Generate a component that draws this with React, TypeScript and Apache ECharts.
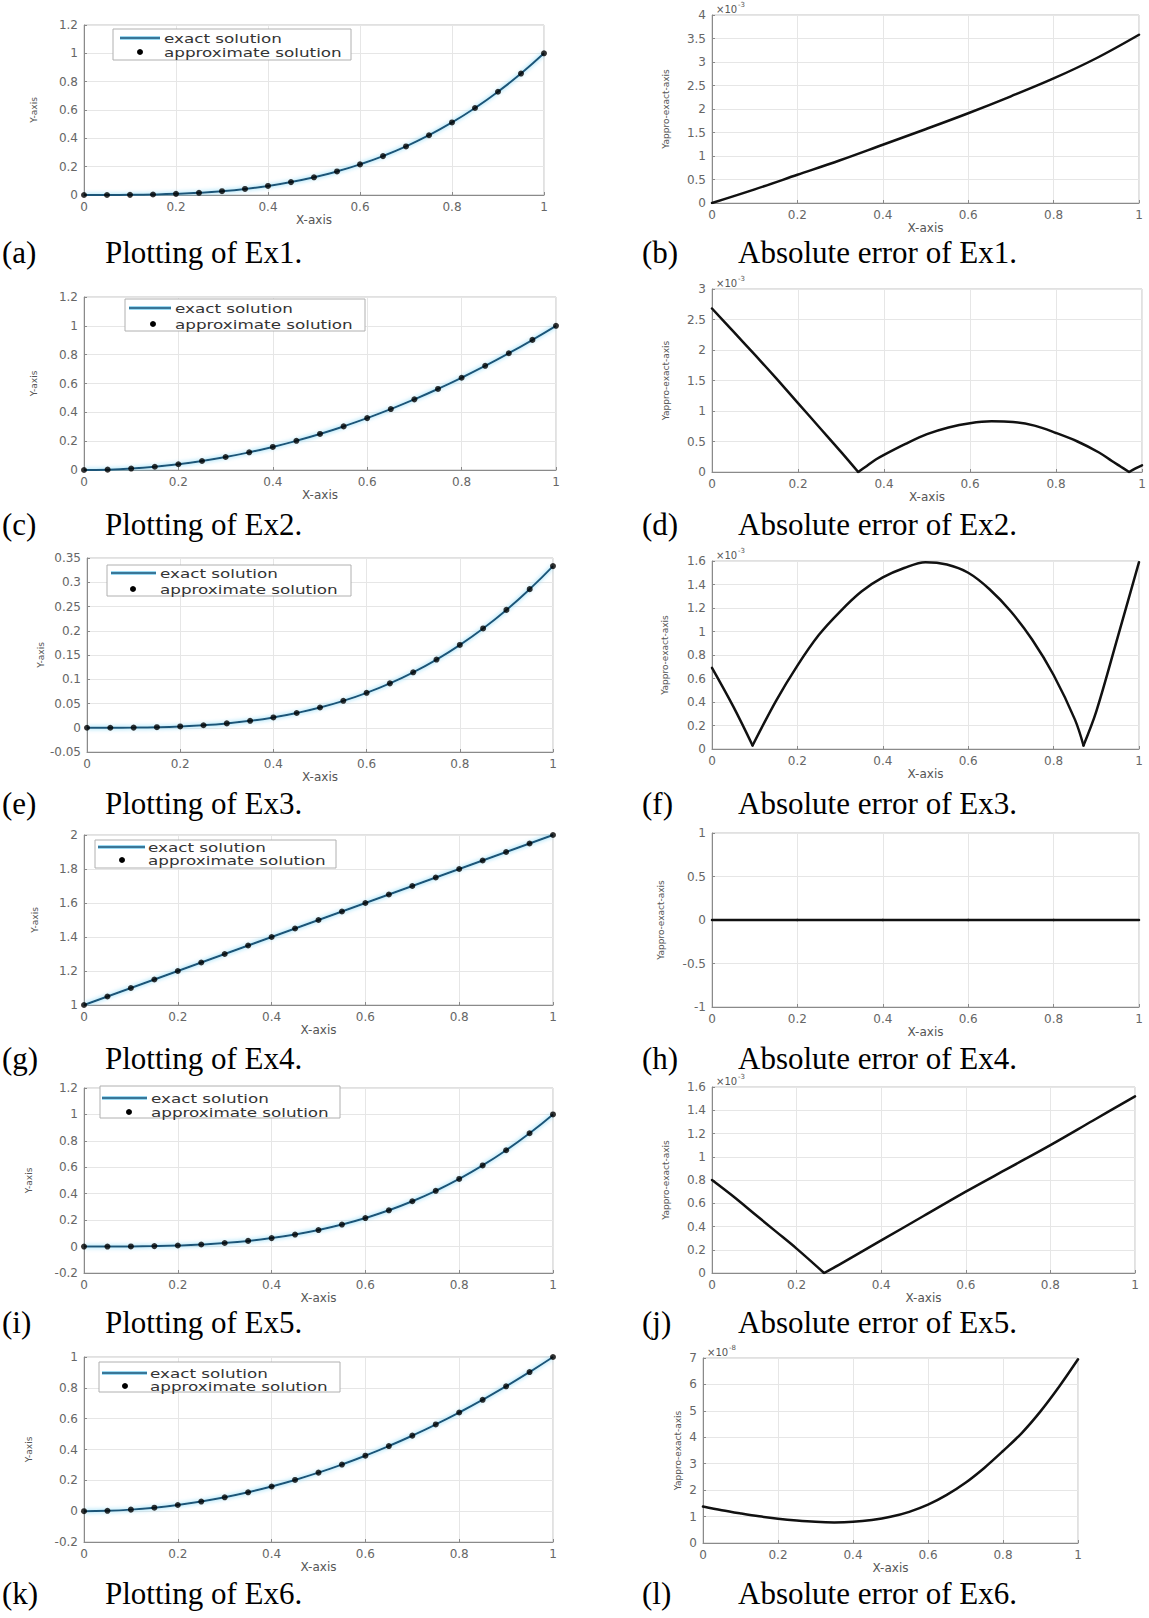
import React, { useEffect, useRef } from "react";
import * as echarts from "echarts";

// ---------------- data ----------------
const xNodes = [0, 0.05, 0.1, 0.15, 0.2, 0.25, 0.3, 0.35, 0.4, 0.45, 0.5, 0.55, 0.6, 0.65, 0.7, 0.75, 0.8, 0.85, 0.9, 0.95, 1];
const xTickLabels = ["0", "0.2", "0.4", "0.6", "0.8", "1"];

const ex1Solution = [0, 0.0001, 0.001, 0.0034, 0.008, 0.0156, 0.027, 0.0429, 0.064, 0.0911, 0.125, 0.1664, 0.216, 0.2746, 0.343, 0.4219, 0.512, 0.6141, 0.729, 0.8574, 1];
const ex2Solution = [0, 0.0025, 0.01, 0.0225, 0.04, 0.0625, 0.09, 0.1225, 0.16, 0.2025, 0.25, 0.3025, 0.36, 0.4225, 0.49, 0.5625, 0.64, 0.7225, 0.81, 0.9025, 1];
const ex3Solution = [0, 0.00004, 0.0003, 0.0011, 0.0027, 0.0052, 0.009, 0.0143, 0.0213, 0.0304, 0.0417, 0.0555, 0.072, 0.0915, 0.1143, 0.1406, 0.1707, 0.2047, 0.243, 0.2858, 0.3333];
const ex4Solution = [1, 1.05, 1.1, 1.15, 1.2, 1.25, 1.3, 1.35, 1.4, 1.45, 1.5, 1.55, 1.6, 1.65, 1.7, 1.75, 1.8, 1.85, 1.9, 1.95, 2];
const ex5Solution = [0, 0.0001, 0.001, 0.0034, 0.008, 0.0156, 0.027, 0.0429, 0.064, 0.0911, 0.125, 0.1664, 0.216, 0.2746, 0.343, 0.4219, 0.512, 0.6141, 0.729, 0.8574, 1];
const ex6Solution = [0, 0.0025, 0.01, 0.0225, 0.04, 0.0625, 0.09, 0.1225, 0.16, 0.2025, 0.25, 0.3025, 0.36, 0.4225, 0.49, 0.5625, 0.64, 0.7225, 0.81, 0.9025, 1];

// absolute errors, in units of the axis multiplier (x10^-3, x10^-8)
const ex1ErrX = [0, 0.1, 0.2, 0.3, 0.4, 0.5, 0.6, 0.7, 0.8, 0.9, 1];
const ex1ErrY = [0, 0.29, 0.6, 0.91, 1.24, 1.57, 1.91, 2.27, 2.65, 3.08, 3.58];

const ex2ErrX = [0, 0.05, 0.1, 0.15, 0.2, 0.25, 0.3, 0.34, 0.36, 0.38, 0.4, 0.45, 0.5, 0.55, 0.6, 0.65, 0.7, 0.75, 0.8, 0.85, 0.9, 0.93, 0.95, 0.97, 0.985, 1];
const ex2ErrY = [2.68, 2.3, 1.92, 1.53, 1.13, 0.73, 0.33, 0.0, 0.1, 0.2, 0.28, 0.46, 0.62, 0.73, 0.8, 0.83, 0.82, 0.76, 0.64, 0.5, 0.32, 0.18, 0.09, 0.0, 0.06, 0.11];

const ex3ErrX = [0, 0.05, 0.095, 0.15, 0.2, 0.25, 0.3, 0.35, 0.4, 0.45, 0.5, 0.55, 0.6, 0.65, 0.7, 0.75, 0.8, 0.85, 0.87, 0.9, 0.95, 1];
const ex3ErrY = [0.69, 0.36, 0.03, 0.41, 0.71, 0.97, 1.17, 1.34, 1.46, 1.54, 1.59, 1.57, 1.5, 1.36, 1.17, 0.93, 0.63, 0.25, 0.03, 0.32, 0.95, 1.59];

const ex4ErrX = [0, 0.2, 0.4, 0.6, 0.8, 1];
const ex4ErrY = [0, 0, 0, 0, 0, 0];

const ex5ErrX = [0, 0.05, 0.1, 0.15, 0.2, 0.265, 0.3, 0.4, 0.5, 0.6, 0.7, 0.8, 0.9, 1];
const ex5ErrY = [0.8, 0.66, 0.51, 0.36, 0.21, 0.0, 0.07, 0.28, 0.49, 0.7, 0.9, 1.1, 1.31, 1.52];

const ex6ErrX = [0, 0.05, 0.1, 0.15, 0.2, 0.25, 0.3, 0.35, 0.4, 0.45, 0.5, 0.55, 0.6, 0.65, 0.7, 0.75, 0.8, 0.85, 0.9, 0.95, 1];
const ex6ErrY = [1.38, 1.24, 1.12, 1.01, 0.92, 0.85, 0.8, 0.78, 0.8, 0.87, 0.99, 1.18, 1.45, 1.82, 2.28, 2.84, 3.48, 4.16, 4.98, 5.92, 6.95];

const legendNames = ["exact solution", "approximate solution"];
const captions = [
  ["(a)", "Plotting of Ex1."], ["(b)", "Absolute error of Ex1."],
  ["(c)", "Plotting of Ex2."], ["(d)", "Absolute error of Ex2."],
  ["(e)", "Plotting of Ex3."], ["(f)", "Absolute error of Ex3."],
  ["(g)", "Plotting of Ex4."], ["(h)", "Absolute error of Ex4."],
  ["(i)", "Plotting of Ex5."], ["(j)", "Absolute error of Ex5."],
  ["(k)", "Plotting of Ex6."], ["(l)", "Absolute error of Ex6."],
];

// ---------------- layout ----------------
const FONT = "DejaVu Sans, Liberation Sans, sans-serif";
const SERIF = "Liberation Serif, DejaVu Serif, serif";

type Panel = {
  kind: "sol" | "err";
  box: number[]; // left, top, width, height
  yMin: number; yMax: number; yStep: number;
  yName: string; yGap: number; xGap: number;
  sol?: number[];
  ex?: number[]; ey?: number[];
  exp?: string;
  legend?: { box: number[]; lx: number[]; tx: number; y1: number; y2: number; dot: number };
};

const panels: Panel[] = [
  { kind: "sol", box: [84, 25, 460, 170], yMin: 0, yMax: 1.2, yStep: 0.2, yName: "Y-axis", yGap: 46, xGap: 16, sol: ex1Solution,
    legend: { box: [113, 29, 238, 31], lx: [120, 160], tx: 164, y1: 38, y2: 52, dot: 140 } },
  { kind: "err", box: [712, 15, 427, 188], yMin: 0, yMax: 4, yStep: 0.5, yName: "Yappro-exact-axis", yGap: 42, xGap: 17, ex: ex1ErrX, ey: ex1ErrY, exp: "-3" },
  { kind: "sol", box: [84, 297, 472, 173], yMin: 0, yMax: 1.2, yStep: 0.2, yName: "Y-axis", yGap: 46, xGap: 16, sol: ex2Solution,
    legend: { box: [125, 299, 240, 32], lx: [129, 171], tx: 175, y1: 308, y2: 324, dot: 153 } },
  { kind: "err", box: [712, 289, 430, 183], yMin: 0, yMax: 3, yStep: 0.5, yName: "Yappro-exact-axis", yGap: 42, xGap: 17, ex: ex2ErrX, ey: ex2ErrY, exp: "-3" },
  { kind: "sol", box: [87, 558, 466, 194], yMin: -0.05, yMax: 0.35, yStep: 0.05, yName: "Y-axis", yGap: 42, xGap: 16, sol: ex3Solution,
    legend: { box: [107, 565, 244, 31], lx: [111, 156], tx: 160, y1: 573, y2: 589, dot: 133 } },
  { kind: "err", box: [712, 561, 427, 188], yMin: 0, yMax: 1.6, yStep: 0.2, yName: "Yappro-exact-axis", yGap: 43, xGap: 16, ex: ex3ErrX, ey: ex3ErrY, exp: "-3" },
  { kind: "sol", box: [84, 835, 469, 170], yMin: 1, yMax: 2, yStep: 0.2, yName: "Y-axis", yGap: 45, xGap: 16, sol: ex4Solution,
    legend: { box: [95, 840, 241, 28], lx: [98, 145], tx: 148, y1: 847, y2: 860, dot: 122 } },
  { kind: "err", box: [712, 833, 427, 174], yMin: -1, yMax: 1, yStep: 0.5, yName: "Yappro-exact-axis", yGap: 47, xGap: 16, ex: ex4ErrX, ey: ex4ErrY },
  { kind: "sol", box: [84, 1088, 469, 185], yMin: -0.2, yMax: 1.2, yStep: 0.2, yName: "Y-axis", yGap: 51, xGap: 15, sol: ex5Solution,
    legend: { box: [100, 1086, 240, 32], lx: [102, 147], tx: 151, y1: 1098, y2: 1112, dot: 129 } },
  { kind: "err", box: [712, 1087, 423, 186], yMin: 0, yMax: 1.6, yStep: 0.2, yName: "Yappro-exact-axis", yGap: 42, xGap: 15, ex: ex5ErrX, ey: ex5ErrY, exp: "-3" },
  { kind: "sol", box: [84, 1357, 469, 185], yMin: -0.2, yMax: 1, yStep: 0.2, yName: "Y-axis", yGap: 51, xGap: 14, sol: ex6Solution,
    legend: { box: [99, 1362, 241, 30], lx: [102, 147], tx: 150, y1: 1373, y2: 1386, dot: 125 } },
  { kind: "err", box: [703, 1358, 375, 185], yMin: 0, yMax: 7, yStep: 1, yName: "Yappro-exact-axis", yGap: 21, xGap: 14, ex: ex6ErrX, ey: ex6ErrY, exp: "-8" },
];

const captionRows = [252, 524, 803, 1058, 1322, 1593];

const EXACT_COLOR = "#1a5478";
const EXACT_GLOW = "#6fd0f5";

// split an error curve at its zero-touching kinks so every arc is smoothed separately
function splitAtKinks(xs: number[], ys: number[]) {
  const segs: number[][][] = [];
  let cur: number[][] = [];
  xs.forEach((x, k) => {
    cur.push([x, ys[k]]);
    const kink = k > 0 && k < xs.length - 1 && ys[k] < 0.05 && ys[k] <= ys[k - 1] && ys[k] <= ys[k + 1];
    if (kink) { segs.push(cur); cur = [[x, ys[k]]]; }
  });
  segs.push(cur);
  return segs;
}

function buildOption() {
  const grid: any[] = [];
  const xAxis: any[] = [];
  const yAxis: any[] = [];
  const series: any[] = [];
  const graphic: any[] = [];

  panels.forEach((p, i) => {
    const [left, top, width, height] = p.box;
    grid.push({ left, top, width, height, show: true, borderColor: "#c2c2c2", borderWidth: 1, backgroundColor: "#fff", containLabel: false });
    xAxis.push({
      type: "value", gridIndex: i, min: 0, max: 1, interval: 0.2,
      axisLine: { show: true, onZero: false, lineStyle: { color: "#8a8a8a", width: 1 } },
      axisTick: { show: true, inside: true, length: 3, lineStyle: { color: "#8a8a8a" } },
      axisLabel: { fontSize: 12, color: "#666", margin: 6, fontFamily: FONT, formatter: (v: number) => xTickLabels[Math.round(v / 0.2)] ?? String(v) },
      splitLine: { show: true, lineStyle: { color: "#e6e6e6", width: 1 } },
      name: "X-axis", nameLocation: "middle", nameGap: p.xGap,
      nameTextStyle: { fontSize: 12, color: "#555", fontFamily: FONT, lineHeight: 12 },
    });
    yAxis.push({
      type: "value", gridIndex: i, min: p.yMin, max: p.yMax, interval: p.yStep,
      axisLine: { show: true, onZero: false, lineStyle: { color: "#8a8a8a", width: 1 } },
      axisTick: { show: true, inside: true, length: 3, lineStyle: { color: "#8a8a8a" } },
      axisLabel: { fontSize: 12, color: "#666", margin: 6, fontFamily: FONT },
      splitLine: { show: true, lineStyle: { color: "#e6e6e6", width: 1 } },
      name: p.yName, nameLocation: "middle", nameGap: p.yGap,
      nameTextStyle: { fontSize: 9, color: "#555", fontFamily: FONT },
    });

    if (p.kind === "sol" && p.sol) {
      const pts = xNodes.map((x, k) => [x, p.sol![k]]);
      series.push({
        name: legendNames[0], type: "line", xAxisIndex: i, yAxisIndex: i, data: pts, smooth: true,
        showSymbol: false, z: 3,
        lineStyle: { color: EXACT_COLOR, width: 2, shadowColor: EXACT_GLOW, shadowBlur: 4 },
      });
      series.push({
        name: legendNames[1], type: "scatter", xAxisIndex: i, yAxisIndex: i, data: pts,
        symbol: "circle", symbolSize: 6, z: 4, itemStyle: { color: "#000" },
      });
      const lg = p.legend!;
      graphic.push({ type: "rect", z: 100, shape: { x: lg.box[0], y: lg.box[1], width: lg.box[2], height: lg.box[3] }, style: { fill: "#fff", stroke: "#b0b0b0", lineWidth: 1 } });
      graphic.push({ type: "line", z: 101, shape: { x1: lg.lx[0], y1: lg.y1, x2: lg.lx[1], y2: lg.y1 }, style: { stroke: "#9ad9f2", lineWidth: 4 } });
      graphic.push({ type: "line", z: 102, shape: { x1: lg.lx[0], y1: lg.y1, x2: lg.lx[1], y2: lg.y1 }, style: { stroke: EXACT_COLOR, lineWidth: 1.6 } });
      graphic.push({ type: "circle", z: 101, shape: { cx: lg.dot, cy: lg.y2, r: 3 }, style: { fill: "#000" } });
      graphic.push({ type: "text", z: 101, x: lg.tx, y: lg.y1, scaleX: 1.4, style: { text: legendNames[0], fontSize: 12, fontFamily: FONT, fill: "#333", verticalAlign: "middle", align: "left" } });
      graphic.push({ type: "text", z: 101, x: lg.tx, y: lg.y2, scaleX: 1.4, style: { text: legendNames[1], fontSize: 12, fontFamily: FONT, fill: "#333", verticalAlign: "middle", align: "left" } });
    } else if (p.ex && p.ey) {
      splitAtKinks(p.ex, p.ey).forEach((seg) => {
        series.push({
          name: "absolute error", type: "line", xAxisIndex: i, yAxisIndex: i,
          data: seg, smooth: seg.length > 2 ? 0.35 : false, showSymbol: false, z: 3,
          lineStyle: { color: "#111", width: 2.5, join: "round", cap: "round" },
        });
      });
      if (p.exp) {
        graphic.push({ type: "text", z: 101, x: left + 4, y: top - 6, style: { text: "×10", fontSize: 10, fontFamily: FONT, fill: "#555", verticalAlign: "middle", align: "left" } });
        graphic.push({ type: "text", z: 101, x: left + 26, y: top - 10, style: { text: p.exp, fontSize: 7, fontFamily: FONT, fill: "#555", verticalAlign: "middle", align: "left" } });
      }
    }

    const row = Math.floor(i / 2);
    const isLeft = i % 2 === 0;
    const cy = captionRows[row];
    graphic.push({ type: "text", z: 101, x: isLeft ? 2 : 642, y: cy, style: { text: captions[i][0], fontSize: 31, lineHeight: 26, fontFamily: SERIF, fill: "#000", verticalAlign: "middle", align: "left" } });
    graphic.push({ type: "text", z: 101, x: isLeft ? 105 : 738, y: cy, style: { text: captions[i][1], fontSize: 31, lineHeight: 26, fontFamily: SERIF, fill: "#000", verticalAlign: "middle", align: "left" } });
  });

  return { animation: false, backgroundColor: "#fff", grid, xAxis, yAxis, series, graphic };
}

export default function App() {
  const ref = useRef<HTMLDivElement>(null);
  useEffect(() => {
    if (!ref.current) return;
    const chart = echarts.init(ref.current, undefined, { renderer: "svg" });
    chart.setOption(buildOption() as any);
    return () => chart.dispose();
  }, []);
  return <div ref={ref} style={{ position: "absolute", left: 0, top: 0, width: 1149, height: 1618, background: "#fff" }} />;
}
